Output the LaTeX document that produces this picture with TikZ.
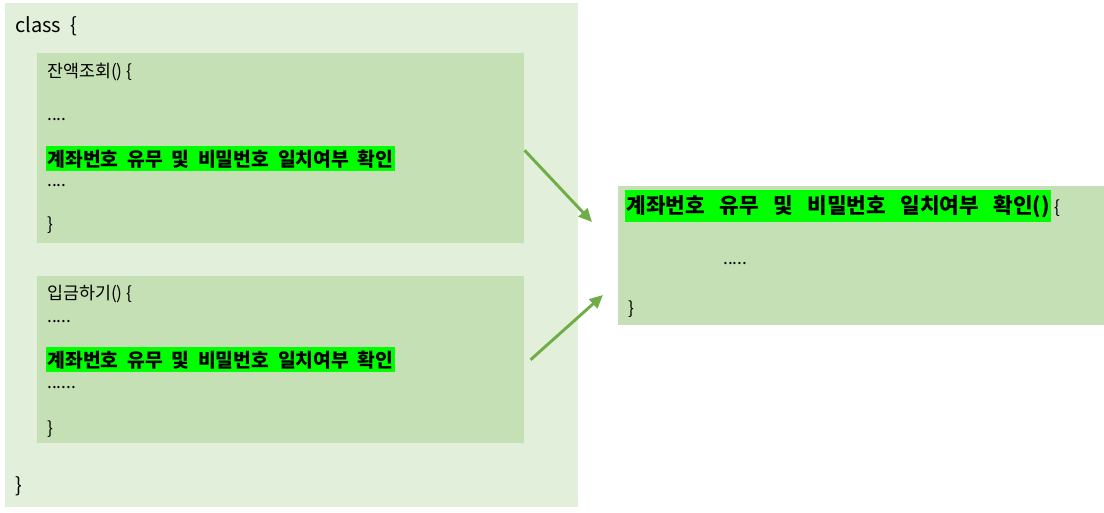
\documentclass[tikz,border=0pt]{standalone}
\usepackage{fontspec}
\setmainfont{Noto Sans CJK KR}
\usetikzlibrary{arrows.meta}
\definecolor{classgreen}{HTML}{E2EFDA}
\definecolor{methodgreen}{HTML}{C5E0B4}
\definecolor{hlgreen}{HTML}{00FF00}
\definecolor{arrowgreen}{HTML}{70AD47}
\def\px{0.75pt}
\tikzset{
  box/.style={inner sep=0, anchor=north west},
  classbox/.style={box, fill=classgreen},
  methodbox/.style={box, fill=methodgreen},
  code/.style={anchor=base west, inner sep=0, font=\fontsize{13}{15}\selectfont},
  hl/.style={anchor=base west, fill=hlgreen, inner xsep=1pt, inner ysep=2.5pt,
    font=\fontsize{14.5}{16}\selectfont\bfseries},
  link/.style={-{Triangle[length=10pt,width=9pt]}, line width=2.2pt, draw=arrowgreen}
}
\begin{document}
\begin{tikzpicture}[x=\px, y=-\px]
    \useasboundingbox (0,0) rectangle (1104,512);
    % Class body
    \node[classbox, minimum width=573*\px, minimum height=504*\px] (cls) at (5,3) {};
    \node[code, font=\fontsize{15}{17}\selectfont] (clsopen) at (15,32) {class\ \ \{};
    \node[code, font=\fontsize{15}{17}\selectfont] (clsclose) at (15,492) {\}};
    % First method
    \node[methodbox, minimum width=487*\px, minimum height=190*\px] (janaek) at (37,53) {};
    \node[code] (janaekhead) at (47,77) {잔액조회() \{};
    \node[code] (janaekdots1) at (47,120) {....};
    \node[hl] (janaekcheck) at (46,166) {\spaceskip=0.45em 계좌번호 유무 및 비밀번호 일치여부 확인};
    \node[code] (janaekdots2) at (47,186) {....};
    \node[code] (janaekend) at (47,230) {\}};
    % Second method
    \node[methodbox, minimum width=487*\px, minimum height=167*\px] (ipgeum) at (37,276) {};
    \node[code] (ipgeumhead) at (47,299) {입금하기() \{};
    \node[code] (ipgeumdots1) at (47,322) {.....};
    \node[hl] (ipgeumcheck) at (46,367) {\spaceskip=0.45em 계좌번호 유무 및 비밀번호 일치여부 확인};
    \node[code] (ipgeumdots2) at (47,388) {......};
    \node[code] (ipgeumend) at (47,434) {\}};
    % Extracted method
    \node[methodbox, minimum width=486*\px, minimum height=139*\px] (check) at (618,186) {};
    \node[hl, inner ysep=3.5pt, font=\fontsize{16}{18}\selectfont\bfseries] (checkhead) at (625,213)
      {\spaceskip=0.68em 계좌번호 유무 및 비밀번호 일치여부 확인()};
    \node[code, anchor=base west] (checkopen) at (checkhead.base east) {\,\{};
    \node[code] (checkdots) at (723,264) {.....};
    \node[code] (checkend) at (628,314) {\}};
    % Arrows
    \coordinate (in1) at (592,222);
    \coordinate (in2) at (603,295);
    \draw[link] (janaek.east) ++(0,2) -- (in1);
    \draw[link] ([xshift=6*\px]ipgeum.east) -- (in2);
\end{tikzpicture}
\end{document}
